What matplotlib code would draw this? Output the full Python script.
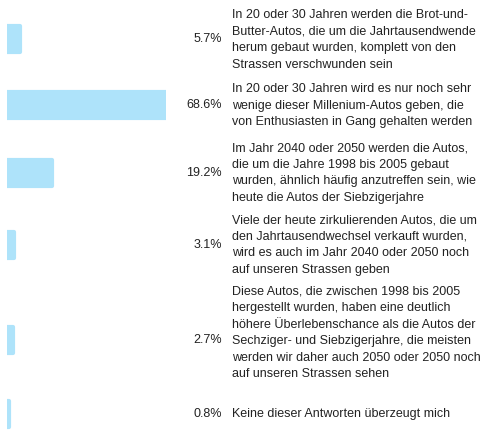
import matplotlib
matplotlib.use("Agg")
import matplotlib.pyplot as plt

values = [5.7, 68.6, 19.2, 3.1, 2.7, 0.8]
labels = [
    "In 20 oder 30 Jahren werden die Brot-und-\nButter-Autos, die um die Jahrtausendwende\nherum gebaut wurden, komplett von den\nStrassen verschwunden sein",
    "In 20 oder 30 Jahren wird es nur noch sehr\nwenige dieser Millenium-Autos geben, die\nvon Enthusiasten in Gang gehalten werden",
    "Im Jahr 2040 oder 2050 werden die Autos,\ndie um die Jahre 1998 bis 2005 gebaut\nwurden, ähnlich häufig anzutreffen sein, wie\nheute die Autos der Siebzigerjahre",
    "Viele der heute zirkulierenden Autos, die um\nden Jahrtausendwechsel verkauft wurden,\nwird es auch im Jahr 2040 oder 2050 noch\nauf unseren Strassen geben",
    "Diese Autos, die zwischen 1998 bis 2005\nhergestellt wurden, haben eine deutlich\nhöhere Überlebenschance als die Autos der\nSechziger- und Siebzigerjahre, die meisten\nwerden wir daher auch 2050 oder 2050 noch\nauf unseren Strassen sehen",
    "Keine dieser Antworten überzeugt mich",
]
row_y = [39, 105, 173, 245, 340, 414]   # pixel centers of bars
text_y = [40, 106, 173, 245, 333, 414]  # pixel centers of text blocks

W, H = 480, 443
fig = plt.figure(figsize=(4.8, 4.43), dpi=100)
plt.rcParams['font.family'] = ['Liberation Sans', 'DejaVu Sans']
color = "#aee3fa"

ax = fig.add_axes([7 / W, 0, (166 - 7) / W, 1])
ax.barh(row_y, values, height=26, color=color, edgecolor=color,
        linewidth=3, joinstyle='round')
ax.set_xlim(0, max(values))
ax.set_ylim(H, 0)
ax.axis('off')

for v, lab, y, ty in zip(values, labels, row_y, text_y):
    fig.text(222 / W, 1 - y / H, f"{v}%", ha='right', va='center', fontsize=9, color='#222222')
    fig.text(232 / W, 1 - ty / H, lab, ha='left', va='center', fontsize=9,
             color='#222222', linespacing=1.5)

fig.savefig("out.png", dpi=100)
